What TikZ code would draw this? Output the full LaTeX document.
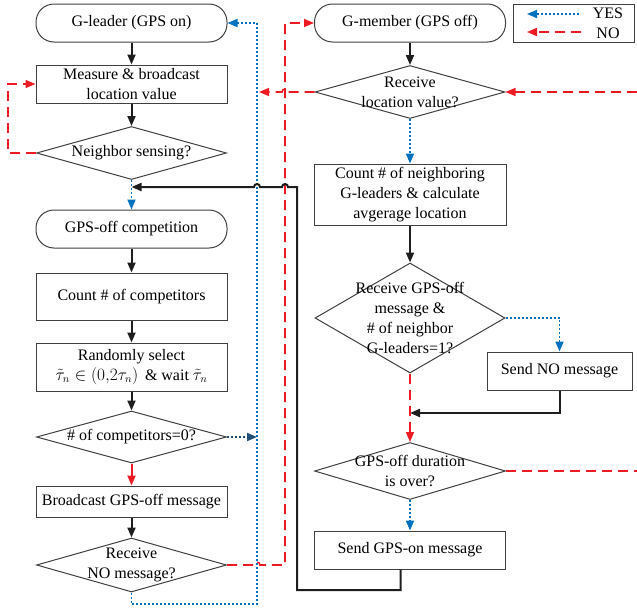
\documentclass[tikz,border=0pt]{standalone}
\usepackage{amsmath,amssymb}
\usepackage{fontspec}
\setmainfont{Liberation Serif}
\usepackage{tikz}
\usetikzlibrary{arrows.meta,positioning,shapes.geometric,calc}
\definecolor{yesblue}{RGB}{0,112,192}
\definecolor{yesnavy}{RGB}{31,78,121}
\definecolor{nored}{RGB}{237,28,36}
\definecolor{boxgray}{RGB}{64,64,64}
\definecolor{flowblack}{RGB}{30,30,30}
\tikzset{
  % --- Boxes of the flow chart ----------------------------------------------
  termbox/.style={
    rectangle, rounded corners=18pt, draw=boxgray, line width=1pt, fill=white,
    minimum width=191pt, minimum height=38pt, align=center, inner sep=2pt
  },
  procbox/.style={
    rectangle, draw=boxgray, line width=1pt, fill=white,
    minimum width=191pt, align=center, inner sep=2pt
  },
  % the diamond stays empty, its text sits in a centre label so that long
  % questions may run over the edges as in the original figure
  decision/.style={
    diamond, draw=boxgray, line width=1pt, fill=white,
    minimum width=190pt, inner sep=0pt
  },
  dtext/.style={align=center, inner sep=0pt},
  legendbox/.style={rectangle, draw=boxgray, line width=1pt},
  % --- Connectors -----------------------------------------------------------
  flowarrow/.style={-{Triangle[length=10pt,width=8pt]}, draw=flowblack, line width=2pt},
  redarrow/.style={-{Triangle[length=10pt,width=8pt]}, draw=nored, line width=2pt},
  yesarrow/.style={-{Triangle[length=10pt,width=8pt]}, draw=yesblue, line width=1.8pt,
    dash pattern=on 2pt off 2pt},
  navyarrow/.style={-{Triangle[length=10pt,width=8pt]}, draw=yesnavy, line width=1.8pt,
    dash pattern=on 2pt off 2pt},
  noarrow/.style={-{Triangle[length=10pt,width=8pt]}, draw=nored, line width=1.6pt,
    dash pattern=on 10pt off 6pt},
  nodash/.style={draw=nored, line width=1.6pt, dash pattern=on 10pt off 6pt},
}

\begin{document}
\begin{tikzpicture}[x=1pt, y=-1pt, every node/.style={font=\fontsize{16}{20}\selectfont}]
    \useasboundingbox (0,0) rectangle (637,608);

    % G-leader side
    \node[termbox] (gleader) at (131.5,23) {G-leader (GPS on)};
    \node[procbox, minimum height=38pt] (measure) at (131.5,84) {Measure \& broadcast\\location value};
    \node[decision, minimum height=53pt, label={[dtext]center:Neighbor sensing?}] (neighbor) at (131.5,153) {};
    \node[termbox] (compete) at (131.5,229) {GPS-off competition};
    \node[procbox, minimum height=47pt] (countc) at (131.5,296.5) {Count \# of competitors};
    \node[procbox, minimum height=48pt] (randsel) at (131.5,367) {Randomly select\\$\tilde{\tau}_n \in (0{,}2\tau_n)$\, \& wait $\tilde{\tau}_n$};
    \node[decision, minimum height=52pt, label={[dtext]center:\# of competitors=0?}] (zerocomp) at (131.5,437) {};
    \node[procbox, minimum height=31pt] (bcast) at (131.5,501.5) {Broadcast GPS-off message};
    \node[decision, minimum height=54pt, label={[dtext]center:Receive\\NO message?}] (nomsg) at (131.5,565) {};

    % G-member side
    \node[termbox] (gmember) at (410,23) {G-member (GPS off)};
    \node[decision, minimum height=53pt, label={[dtext]center:Receive\\location value?}] (recloc) at (410,92) {};
    \node[procbox, minimum width=192pt, minimum height=61pt] (countg) at (410,194.5) {Count \# of neighboring\\G-leaders \& calculate\\avgerage location};
    \node[decision, minimum height=110pt, label={[dtext]center:Receive GPS-off\\message \&\\\# of neighbor\\G-leaders=1?}] (recoff) at (410,318) {};
    \node[procbox, minimum width=145pt, minimum height=38pt] (sendno) at (559.5,371) {Send NO message};
    \node[decision, minimum width=191pt, minimum height=57pt, label={[dtext]center:GPS-off duration\\is over?}] (duration) at (410,471) {};
    \node[procbox, minimum height=38pt] (sendon) at (410,550) {Send GPS-on message};

    % legend
    \node[legendbox, minimum width=121pt, minimum height=38pt] (legend) at (573.5,23) {};
    \node (yes) at (608,13) {YES};
    \node (no) at (608,33) {NO};
    \coordinate (yesa) at (579,14);
    \coordinate (yesb) at (527,14);
    \coordinate (noa) at (581,32);
    \coordinate (nob) at (527,32);
    \draw[yesarrow] (yesa) -- (yesb);
    \draw[noarrow] (noa) -- (nob);

    % free ends
    \coordinate (join) at (131.5,187);
    \coordinate (merge) at (410,413);
    \coordinate (edgetop) at (637,92);
    \coordinate (edgebot) at (637,471);

    % left column
    \draw[flowarrow] (gleader) -- (measure);
    \draw[flowarrow] (measure) -- (neighbor);
    \draw[noarrow] (neighbor.west) -- (8,153) |- (measure.west);
    \draw[yesarrow] (neighbor.south) -- (compete.north);
    \draw[flowarrow] (compete) -- (countc);
    \draw[flowarrow] (countc) -- (randsel);
    \draw[flowarrow] (randsel) -- (zerocomp);
    \draw[navyarrow] (zerocomp.east) -- (257,437);
    \draw[redarrow] (zerocomp) -- (bcast);
    \draw[flowarrow] (bcast) -- (nomsg);
    \draw[yesarrow] (nomsg.south) -- (131.5,604) -| (257,23) -- (gleader.east);
    \draw[noarrow] (nomsg.east) -- (254,565) arc[start angle=180, end angle=0, radius=3pt]
      -- (285,565) |- (gmember.west);

    % right column
    \draw[flowarrow] (gmember) -- (recloc);
    \draw[noarrow] (recloc.west) -- (288,92) arc[start angle=0, end angle=180, radius=3pt]
      -- (259,92);
    \draw[noarrow] (edgetop) -- (recloc.east);
    \draw[yesarrow] (recloc) -- (countg);
    \draw[flowarrow] (countg) -- (recoff);
    \draw[yesarrow] (recoff.east) -| (sendno.north);
    \draw[flowarrow] (sendno.south) |- (merge);
    \draw[noarrow] (recoff.south) -- (duration.north);
    \draw[nodash] (duration.east) -- (edgebot);
    \draw[yesarrow] (duration) -- (sendon);
    \draw[flowarrow] ($(sendon.south)+(-9.5,0)$) |- (297,590) -- (297,187)
      -- (288,187) arc[start angle=0, end angle=180, radius=3pt]
      -- (260,187) arc[start angle=0, end angle=180, radius=3pt] -- (join);
  \end{tikzpicture}
\end{document}
